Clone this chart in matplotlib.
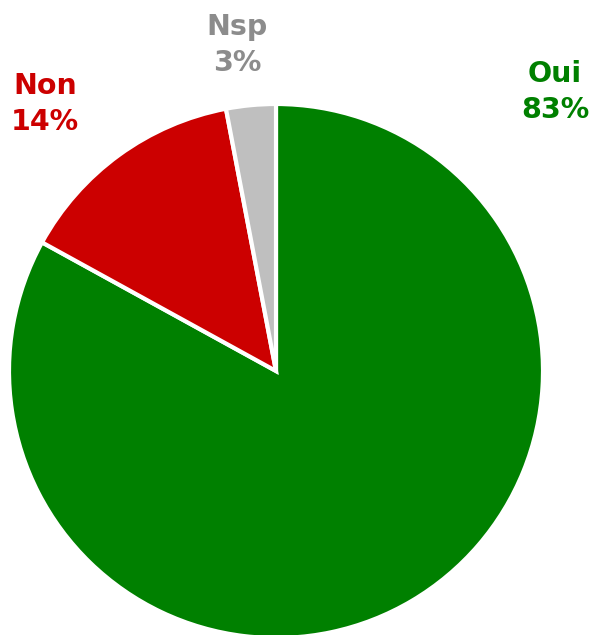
import matplotlib
matplotlib.use("Agg")
import matplotlib.pyplot as plt

categories = ["Oui", "Non", "Nsp"]
values = [83, 14, 3]
colors = ["#008000", "#CC0000", "#BFBFBF"]
text_colors = ["#008000", "#CC0000", "#8C8C8C"]
label_pos = [(555, 92), (45, 104), (237, 45)]

W, H = 591, 635
fig = plt.figure(figsize=(W / 100, H / 100), dpi=100)
ax = fig.add_axes([0, 0, 1, 1])

ax.pie(values, colors=colors, startangle=90, counterclock=False,
       center=(276, H - 371), radius=267,
       wedgeprops=dict(edgecolor="white", linewidth=3))

ax.set_xlim(0, W)
ax.set_ylim(0, H)
ax.set_aspect("equal")
ax.axis("off")

for cat, v, c, (x, y) in zip(categories, values, text_colors, label_pos):
    ax.text(x, H - y, f"{cat}\n{v}%", color=c, ha="center", va="center",
            fontsize=20.5, fontweight="bold", family=["DejaVu Sans"],
            linespacing=1.32)

fig.savefig("out.png", dpi=100)
